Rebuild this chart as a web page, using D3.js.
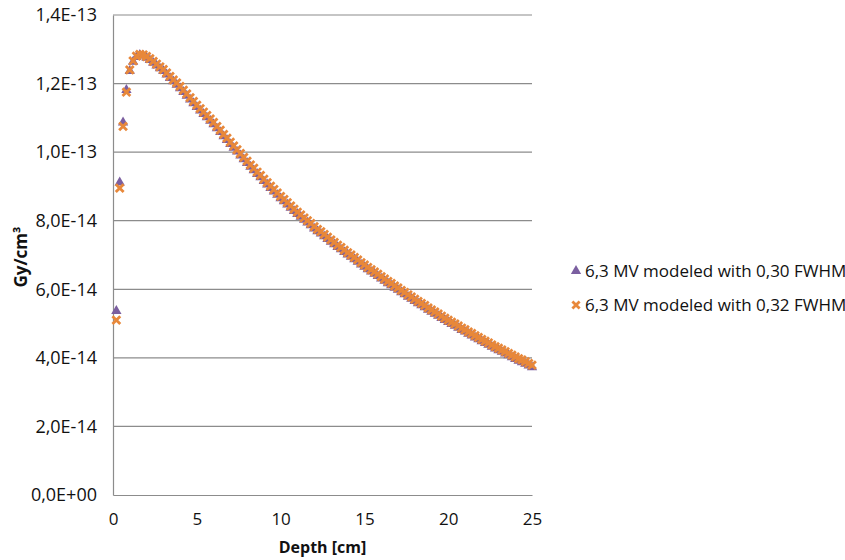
<!DOCTYPE html>
<html>
<head>
<meta charset="utf-8">
<script src="https://cdn.jsdelivr.net/npm/d3@7.9.0/dist/d3.min.js"></script>
<style>
  body { margin: 0; background: #fff; }
  svg { font-family: "Open Sans", "Lato", sans-serif; }
</style>
</head>
<body>
<svg width="845" height="560"></svg>
<script>
// depth in cm
const depths = [0.2,0.4,0.6,0.8,1.0,1.2,1.4,1.6,1.8,2.0,2.2,2.4,2.6,2.8,3.0,3.2,3.4,3.6,3.8,4.0,
  4.2,4.4,4.6,4.8,5.0,5.2,5.4,5.6,5.8,6.0,6.2,6.4,6.6,6.8,7.0,7.2,7.4,7.6,7.8,8.0,
  8.2,8.4,8.6,8.8,9.0,9.2,9.4,9.6,9.8,10.0,10.2,10.4,10.6,10.8,11.0,11.2,11.4,11.6,11.8,12.0,
  12.2,12.4,12.6,12.8,13.0,13.2,13.4,13.6,13.8,14.0,14.2,14.4,14.6,14.8,15.0,15.2,15.4,15.6,15.8,16.0,
  16.2,16.4,16.6,16.8,17.0,17.2,17.4,17.6,17.8,18.0,18.2,18.4,18.6,18.8,19.0,19.2,19.4,19.6,19.8,20.0,
  20.2,20.4,20.6,20.8,21.0,21.2,21.4,21.6,21.8,22.0,22.2,22.4,22.6,22.8,23.0,23.2,23.4,23.6,23.8,24.0,
  24.2,24.4,24.6,24.8,25.0];

// dose, units of 1E-14 Gy/cm³
const fwhm030 = [5.35,9.10,10.85,11.80,12.35,12.62,12.76,12.82,12.80,12.74,12.67,12.59,12.51,12.43,12.35,12.25,12.15,12.05,11.95,11.85,
  11.74,11.63,11.52,11.41,11.30,11.20,11.10,11.00,10.90,10.80,10.68,10.57,10.45,10.34,10.22,10.11,10.00,9.89,9.78,9.67,
  9.56,9.46,9.35,9.25,9.14,9.04,8.94,8.84,8.74,8.64,8.55,8.46,8.36,8.27,8.18,8.10,8.01,7.93,7.85,7.76,
  7.68,7.61,7.53,7.45,7.37,7.30,7.22,7.15,7.07,7.00,6.93,6.86,6.79,6.71,6.64,6.57,6.50,6.44,6.37,6.30,
  6.23,6.16,6.10,6.03,5.97,5.90,5.84,5.77,5.71,5.64,5.58,5.52,5.46,5.39,5.33,5.27,5.21,5.15,5.09,5.03,
  4.97,4.92,4.86,4.80,4.75,4.69,4.64,4.58,4.53,4.47,4.42,4.37,4.31,4.26,4.21,4.16,4.11,4.06,4.00,3.95,
  3.90,3.86,3.81,3.76,3.71];

const fwhm032 = [5.10,8.95,10.75,11.75,12.40,12.66,12.80,12.85,12.84,12.79,12.73,12.65,12.57,12.49,12.41,12.31,12.21,12.11,12.02,11.92,
  11.81,11.70,11.59,11.48,11.37,11.27,11.17,11.07,10.97,10.87,10.75,10.64,10.52,10.41,10.29,10.18,10.07,9.96,9.85,9.74,
  9.63,9.53,9.42,9.32,9.21,9.11,9.01,8.91,8.81,8.71,8.62,8.53,8.43,8.34,8.25,8.17,8.08,8.00,7.92,7.83,
  7.75,7.68,7.60,7.52,7.44,7.37,7.29,7.22,7.14,7.07,7.00,6.93,6.86,6.78,6.71,6.64,6.57,6.51,6.44,6.37,
  6.30,6.23,6.17,6.10,6.04,5.97,5.91,5.84,5.78,5.71,5.65,5.59,5.53,5.46,5.40,5.34,5.28,5.22,5.16,5.10,
  5.04,4.99,4.93,4.87,4.82,4.76,4.71,4.65,4.60,4.54,4.49,4.44,4.38,4.33,4.28,4.23,4.18,4.13,4.08,4.03,
  3.98,3.94,3.89,3.84,3.79];

const yTicks = [0, 2e-14, 4e-14, 6e-14, 8e-14, 1e-13, 1.2e-13, 1.4e-13];
const yTickLabels = ["0,0E+00","2,0E-14","4,0E-14","6,0E-14","8,0E-14","1,0E-13","1,2E-13","1,4E-13"];
const xTicks = [0, 5, 10, 15, 20, 25];
const seriesNames = ["6,3 MV modeled with 0,30 FWHM", "6,3 MV modeled with 0,32 FWHM"];

const svg = d3.select("svg");
const plotL = 113, plotR = 532, plotT = 15, plotB = 495;

const x = d3.scaleLinear().domain([0, 25]).range([plotL, plotR]);
const y = d3.scaleLinear().domain([0, 1.4e-13]).range([plotB, plotT]);

// gridlines
svg.append("g")
  .selectAll("line")
  .data(yTicks.slice(1))
  .join("line")
  .attr("x1", plotL).attr("x2", plotR)
  .attr("y1", d => y(d)).attr("y2", d => y(d))
  .attr("stroke", "#8c8c8c").attr("stroke-width", 1.2);

// axes
const yAxis = svg.append("g")
  .attr("transform", `translate(${plotL},0)`)
  .call(d3.axisLeft(y).tickValues(yTicks).tickSize(0).tickPadding(16)
    .tickFormat((d, i) => yTickLabels[i]));
const xAxis = svg.append("g")
  .attr("transform", `translate(0,${plotB})`)
  .call(d3.axisBottom(x).tickValues(xTicks).tickSize(0).tickPadding(18));

[yAxis, xAxis].forEach(g => {
  g.select(".domain").attr("stroke", "#8c8c8c").attr("stroke-width", 1.2);
  g.selectAll("text").attr("fill", "#111")
    .attr("font-family", "'Open Sans', Lato, sans-serif");
});
yAxis.selectAll("text").attr("font-size", 18);
xAxis.selectAll("text").attr("font-size", 17);

// axis titles
svg.append("text")
  .attr("x", (plotL + plotR) / 2).attr("y", 553)
  .attr("text-anchor", "middle").attr("font-size", 16).attr("font-weight", "bold")
  .attr("fill", "#111").text("Depth [cm]");
svg.append("text")
  .attr("transform", "translate(27,257) rotate(-90)")
  .attr("text-anchor", "middle").attr("font-size", 17).attr("font-weight", "bold")
  .attr("fill", "#111").text("Gy/cm³");

const purple = "#7b5fa0", orange = "#e8883a";
const tri = d3.symbol().type(d3.symbolTriangle).size(46);

const pts030 = depths.map((d, i) => ({ d, v: fwhm030[i] * 1e-14 }));
const pts032 = depths.map((d, i) => ({ d, v: fwhm032[i] * 1e-14 }));

svg.append("g")
  .selectAll("path")
  .data(pts030)
  .join("path")
  .attr("d", tri)
  .attr("transform", p => `translate(${x(p.d)},${y(p.v) - 0.5})`)
  .attr("fill", purple);

function drawX(g, cx, cy, s) {
  g.append("path")
    .attr("d", `M${cx - s},${cy - s}L${cx + s},${cy + s}M${cx - s},${cy + s}L${cx + s},${cy - s}`)
    .attr("stroke", orange).attr("stroke-width", 2.8).attr("fill", "none");
}

const gx = svg.append("g");
pts032.forEach(p => drawX(gx, x(p.d), y(p.v), 3.9));

// legend
const lg = svg.append("g");
lg.append("path").attr("d", tri).attr("transform", "translate(576,271)").attr("fill", purple);
drawX(lg, 576, 305, 3.6);
lg.selectAll("text")
  .data(seriesNames)
  .join("text")
  .attr("x", 585).attr("y", (d, i) => 271 + i * 34)
  .attr("dy", "0.35em")
  .attr("font-size", 17).attr("fill", "#111")
  .text(d => d);
</script>
</body>
</html>
